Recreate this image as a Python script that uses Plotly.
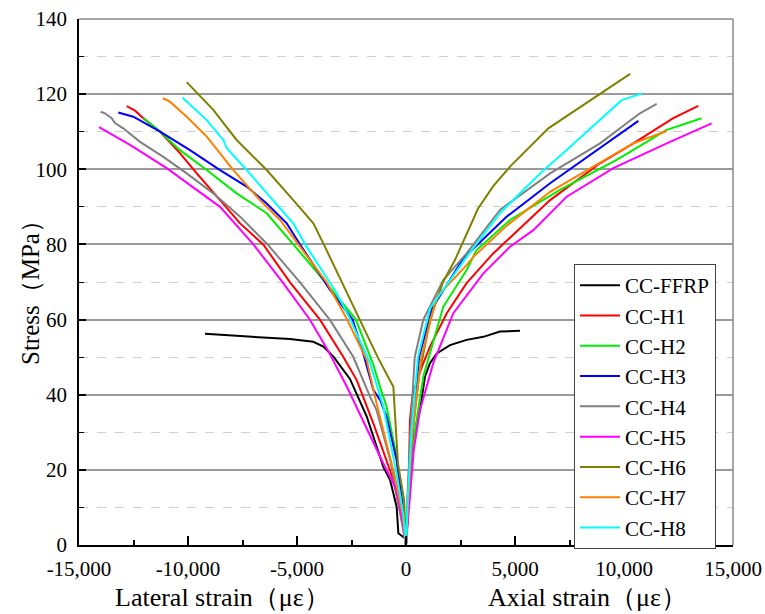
import plotly.graph_objects as go

names = ["CC-FFRP", "CC-H1", "CC-H2", "CC-H3", "CC-H4", "CC-H5", "CC-H6", "CC-H7", "CC-H8"]
colors = ["#000000", "#FF0000", "#00EE00", "#0000FF", "#808080", "#FF00FF", "#808000", "#FF8000", "#00FFFF"]

# Lateral strain (negative) from peak down to origin, then axial strain from origin up to peak
ffrp_lat_x = [-9220, -6850, -5320, -4250, -3790, -3330, -2880, -2570, -1800, -1040, -730, -430, -350, -50, 0]
ffrp_lat_y = [56.2, 55.4, 54.8, 54.1, 52.8, 50.1, 46.6, 44.2, 34.2, 20.8, 17.3, 10.2, 3.1, 1.8, 0]
ffrp_ax_x = [0, 150, 400, 640, 870, 1100, 1410, 2020, 2780, 3550, 4310, 5230]
ffrp_ax_y = [0, 15, 30, 35.9, 44.8, 48.4, 51.0, 53.2, 54.6, 55.4, 56.8, 57.0]

h1_lat_x = [-12810, -12430, -12050, -11280, -10370, -9600, -8530, -7610, -6550, -5320, -3940, -2880, -2260, -1500, -580, -200, 0]
h1_lat_y = [116.8, 115.6, 113.6, 110.0, 104.3, 98.9, 91.8, 85.6, 80.0, 69.9, 59.9, 50.1, 43.9, 32.4, 17.3, 7, 0]
h1_ax_x = [0, 120, 180, 300, 700, 1100, 1870, 2780, 4000, 5150, 6610, 8900, 10430, 12260, 13410]
h1_ax_y = [0, 15, 33, 40, 47, 52.8, 61.7, 69.7, 77.6, 83.8, 91.8, 101.6, 106.9, 113.6, 116.9]

h2_lat_x = [-12050, -11280, -10370, -9140, -7770, -6390, -5170, -3700, -2300, -1500, -1190, -890, -430, -150, 0]
h2_lat_y = [113.7, 110.0, 105.1, 99.8, 93.6, 88.3, 80.0, 70, 60, 48, 42.1, 36.8, 23.5, 10, 0]
h2_ax_x = [0, 150, 400, 800, 1710, 2780, 3240, 4770, 7060, 9660, 11960, 13560]
h2_ax_y = [0, 15, 30, 45, 63.4, 73.2, 78.5, 86.5, 94.5, 102.5, 110.5, 113.6]

h3_lat_x = [-13200, -12510, -11280, -9910, -8530, -7310, -6390, -5470, -4860, -3500, -2450, -1960, -1500, -1190, -890, -430, -150, 0]
h3_lat_y = [115.1, 114.0, 110.0, 105.1, 99.8, 95.4, 90.9, 85.6, 80.0, 68, 60, 51, 41.3, 38.6, 34.2, 22.6, 10, 0]
h3_ax_x = [0, 100, 300, 600, 1200, 2630, 4620, 6610, 8590, 10660]
h3_ax_y = [0, 12, 30, 50, 63, 76.3, 87.4, 96.3, 104.3, 112.9]

h4_lat_x = [-14010, -13810, -13500, -13350, -12970, -12200, -11130, -10060, -8840, -7610, -6350, -4860, -3490, -2420, -1650, -1350, -700, -300, 0]
h4_lat_y = [115.3, 114.9, 113.6, 112.3, 110.9, 107.3, 103.3, 98.9, 93.6, 87.4, 80.0, 69.9, 59.9, 50.1, 39.5, 35.9, 22, 10, 0]
h4_ax_x = [0, 60, 200, 400, 790, 1710, 2780, 4310, 6610, 8900, 10730, 11500]
h4_ax_y = [0, 12, 30, 50, 59.9, 70.5, 77.6, 89.2, 98.9, 106.9, 114.9, 117.4]

h5_lat_x = [-14080, -12660, -10980, -9910, -8530, -7000, -5630, -4400, -3600, -2700, -1340, -1040, -430, -150, 0]
h5_lat_y = [111.2, 106.5, 100.3, 95.8, 90.0, 80.0, 69.7, 59.9, 52, 42, 25.3, 21.7, 14.6, 6, 0]
h5_ax_x = [0, 150, 350, 640, 1250, 2170, 3550, 4770, 5840, 7370, 9510, 11960, 14020]
h5_ax_y = [0, 10, 25, 35.9, 48.4, 61.7, 72.3, 79.4, 83.8, 92.7, 100.3, 106.9, 112.2]

h6_lat_x = [-10060, -8840, -7770, -6390, -5170, -4250, -3720, -2110, -1300, -660, -580, -370, -90, 0]
h6_lat_y = [123.2, 115.8, 107.8, 99.8, 91.8, 85.6, 79.4, 60, 50, 43, 42.1, 21.8, 12, 0]
h6_ax_x = [0, 100, 300, 600, 1100, 1700, 2250, 2780, 3300, 4000, 4770, 6530, 8900, 10280]
h6_ax_y = [0, 15, 30, 45, 60, 70, 75.9, 83.0, 89.5, 95.5, 100.7, 110.9, 120.2, 125.4]

h7_lat_x = [-11160, -10830, -10060, -9140, -7920, -6700, -5780, -4940, -3640, -2700, -1800, -1350, -500, -150, 0]
h7_lat_y = [118.9, 118.0, 114.0, 108.7, 99.8, 91.8, 86.5, 80.0, 69.9, 60, 49.2, 37.7, 18, 8, 0]
h7_ax_x = [0, 100, 300, 700, 1410, 2780, 3090, 4620, 6610, 8590, 10430, 11960]
h7_ax_y = [0, 12, 30, 50, 66, 74.5, 76.7, 85, 94, 100.7, 106.9, 110.2]

h8_lat_x = [-10260, -9140, -8380, -8220, -7310, -6090, -5170, -4560, -3180, -2550, -1650, -1040, -400, -120, 0]
h8_lat_y = [119.1, 113.1, 107.8, 105.6, 99.8, 91.8, 85.6, 79.4, 67, 60, 48.4, 36.8, 18, 8, 0]
h8_ax_x = [0, 80, 250, 550, 1100, 2780, 4310, 6150, 7370, 9890, 10840]
h8_ax_y = [0, 12, 30, 50, 63, 76.7, 88.3, 98.9, 105.1, 118.4, 120.2]

lat_x = [ffrp_lat_x, h1_lat_x, h2_lat_x, h3_lat_x, h4_lat_x, h5_lat_x, h6_lat_x, h7_lat_x, h8_lat_x]
lat_y = [ffrp_lat_y, h1_lat_y, h2_lat_y, h3_lat_y, h4_lat_y, h5_lat_y, h6_lat_y, h7_lat_y, h8_lat_y]
ax_x = [ffrp_ax_x, h1_ax_x, h2_ax_x, h3_ax_x, h4_ax_x, h5_ax_x, h6_ax_x, h7_ax_x, h8_ax_x]
ax_y = [ffrp_ax_y, h1_ax_y, h2_ax_y, h3_ax_y, h4_ax_y, h5_ax_y, h6_ax_y, h7_ax_y, h8_ax_y]

x_tickvals = [-15000, -10000, -5000, 0, 5000, 10000, 15000]
x_ticktext = ["-15,000", "-10,000", "-5,000", "0", "5,000", "10,000", "15,000"]
y_tickvals = [0, 20, 40, 60, 80, 100, 120, 140]

FONT = "Liberation Serif"

fig = go.Figure()
for i in range(len(names)):
    fig.add_trace(go.Scatter(
        x=lat_x[i] + ax_x[i][1:], y=lat_y[i] + ax_y[i][1:],
        mode="lines", name=names[i],
        line=dict(color=colors[i], width=2),
    ))

W, H = 765, 614
L, R, T, B = 79, 733, 19, 545
PW, PH = R - L, B - T

def px(xw):
    return (xw - L) / PW

def py(yw):
    return (B - yw) / PH

fig.update_layout(
    width=W, height=H,
    margin=dict(l=L, r=W - R, t=T, b=H - B, autoexpand=False),
    paper_bgcolor="white", plot_bgcolor="white",
    font=dict(family=FONT, size=21, color="black"),
    showlegend=True,
    legend=dict(x=px(716), y=py(264), xanchor="right", yanchor="top",
                bgcolor="white", bordercolor="#444444", borderwidth=1,
                font=dict(family=FONT, size=21), tracegroupgap=0,
                itemwidth=40),
    xaxis=dict(range=[-15000, 15000], tickvals=x_tickvals, ticktext=x_ticktext, automargin=False,
               showgrid=False, zeroline=False, showline=True, linecolor="black", linewidth=1.5,
               ticks="inside", ticklen=9, tickwidth=1.5, tickcolor="black",
               minor=dict(dtick=2500, ticks="inside", ticklen=5, tickwidth=1.5, tickcolor="black", showgrid=False),
               tickfont=dict(family=FONT, size=21), ticklabelstandoff=4),
    yaxis=dict(range=[0, 140], tickvals=y_tickvals, automargin=False,
               showgrid=True, gridcolor="#9a9a9a", gridwidth=1.5, zeroline=False,
               showline=True, linecolor="black", linewidth=1.5,
               ticks="inside", ticklen=7, tickwidth=1.5, tickcolor="black",
               minor=dict(dtick=10, ticks="inside", ticklen=5, tickwidth=1, tickcolor="black",
                          showgrid=True, gridcolor="#cfcfcf", griddash="dash", gridwidth=1),
               tickfont=dict(family=FONT, size=21), ticklabelstandoff=6),
    shapes=[
        dict(type="line", xref="paper", yref="paper", x0=0, x1=1, y0=1, y1=1,
             line=dict(color="#888888", width=1.5)),
        dict(type="line", xref="paper", yref="paper", x0=1, x1=1, y0=0, y1=1,
             line=dict(color="#888888", width=1.5)),
    ],
)

fig.add_annotation(text="Stress（MPa）", xref="paper", yref="paper",
                   x=px(30), y=py(287), xanchor="center", yanchor="middle",
                   textangle=-90, showarrow=False, font=dict(family=FONT, size=25))
fig.add_annotation(text="Lateral strain（με）", xref="paper", yref="paper",
                   x=px(222), y=py(597), xanchor="center", yanchor="middle",
                   showarrow=False, font=dict(family=FONT, size=26))
fig.add_annotation(text="Axial strain（με）", xref="paper", yref="paper",
                   x=px(587), y=py(597), xanchor="center", yanchor="middle",
                   showarrow=False, font=dict(family=FONT, size=26))

fig.write_html("out.html", config={"displayModeBar": False},
               post_script="document.body.style.margin='0';document.body.style.overflow='hidden';")
